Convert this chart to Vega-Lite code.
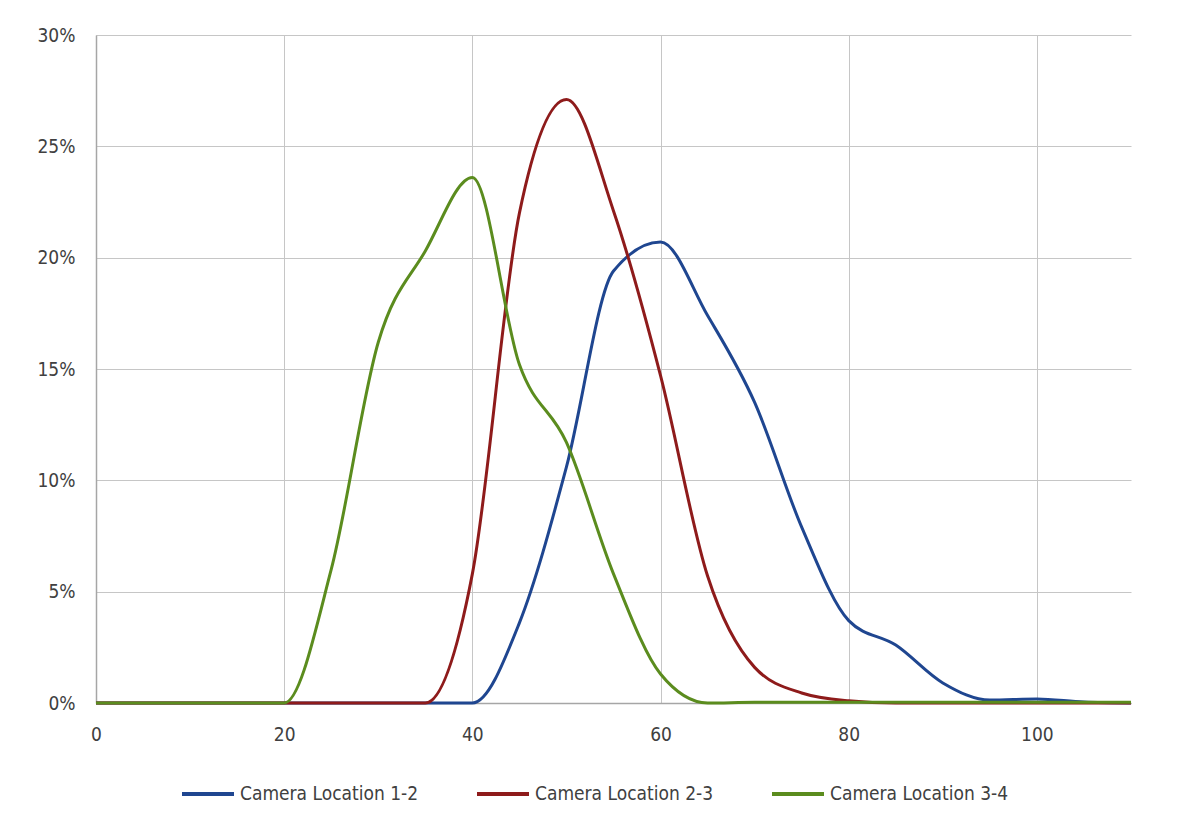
{
  "$schema": "https://vega.github.io/schema/vega-lite/v6.json",
  "width": 1035,
  "height": 668,
  "autosize": {"type": "none"},
  "padding": {"left": 96, "top": 35, "right": 49, "bottom": 130},
  "background": "white",
  "data": {
    "values": [
      {"x": 0, "pct": 0, "series": "Camera Location 1-2"},
      {"x": 5, "pct": 0, "series": "Camera Location 1-2"},
      {"x": 10, "pct": 0, "series": "Camera Location 1-2"},
      {"x": 15, "pct": 0, "series": "Camera Location 1-2"},
      {"x": 20, "pct": 0, "series": "Camera Location 1-2"},
      {"x": 25, "pct": 0, "series": "Camera Location 1-2"},
      {"x": 30, "pct": 0, "series": "Camera Location 1-2"},
      {"x": 35, "pct": 0, "series": "Camera Location 1-2"},
      {"x": 40, "pct": 0, "series": "Camera Location 1-2"},
      {"x": 45, "pct": 0.036, "series": "Camera Location 1-2"},
      {"x": 50, "pct": 0.106, "series": "Camera Location 1-2"},
      {"x": 55, "pct": 0.194, "series": "Camera Location 1-2"},
      {"x": 60, "pct": 0.207, "series": "Camera Location 1-2"},
      {"x": 65, "pct": 0.174, "series": "Camera Location 1-2"},
      {"x": 70, "pct": 0.135, "series": "Camera Location 1-2"},
      {"x": 75, "pct": 0.079, "series": "Camera Location 1-2"},
      {"x": 80, "pct": 0.037, "series": "Camera Location 1-2"},
      {"x": 85, "pct": 0.026, "series": "Camera Location 1-2"},
      {"x": 90, "pct": 0.009, "series": "Camera Location 1-2"},
      {"x": 95, "pct": 0.0013, "series": "Camera Location 1-2"},
      {"x": 100, "pct": 0.0018, "series": "Camera Location 1-2"},
      {"x": 105, "pct": 0.0004, "series": "Camera Location 1-2"},
      {"x": 110, "pct": 0, "series": "Camera Location 1-2"},
      {"x": 0, "pct": 0, "series": "Camera Location 2-3"},
      {"x": 5, "pct": 0, "series": "Camera Location 2-3"},
      {"x": 10, "pct": 0, "series": "Camera Location 2-3"},
      {"x": 15, "pct": 0, "series": "Camera Location 2-3"},
      {"x": 20, "pct": 0, "series": "Camera Location 2-3"},
      {"x": 25, "pct": 0, "series": "Camera Location 2-3"},
      {"x": 30, "pct": 0, "series": "Camera Location 2-3"},
      {"x": 35, "pct": 0, "series": "Camera Location 2-3"},
      {"x": 40, "pct": 0.058, "series": "Camera Location 2-3"},
      {"x": 45, "pct": 0.22, "series": "Camera Location 2-3"},
      {"x": 50, "pct": 0.271, "series": "Camera Location 2-3"},
      {"x": 55, "pct": 0.221, "series": "Camera Location 2-3"},
      {"x": 60, "pct": 0.147, "series": "Camera Location 2-3"},
      {"x": 65, "pct": 0.057, "series": "Camera Location 2-3"},
      {"x": 70, "pct": 0.016, "series": "Camera Location 2-3"},
      {"x": 75, "pct": 0.0045, "series": "Camera Location 2-3"},
      {"x": 80, "pct": 0.001, "series": "Camera Location 2-3"},
      {"x": 85, "pct": 0, "series": "Camera Location 2-3"},
      {"x": 90, "pct": 0, "series": "Camera Location 2-3"},
      {"x": 95, "pct": 0, "series": "Camera Location 2-3"},
      {"x": 100, "pct": 0, "series": "Camera Location 2-3"},
      {"x": 105, "pct": 0, "series": "Camera Location 2-3"},
      {"x": 110, "pct": 0, "series": "Camera Location 2-3"},
      {"x": 0, "pct": 0, "series": "Camera Location 3-4"},
      {"x": 5, "pct": 0, "series": "Camera Location 3-4"},
      {"x": 10, "pct": 0, "series": "Camera Location 3-4"},
      {"x": 15, "pct": 0, "series": "Camera Location 3-4"},
      {"x": 20, "pct": 0, "series": "Camera Location 3-4"},
      {"x": 25, "pct": 0.06, "series": "Camera Location 3-4"},
      {"x": 30, "pct": 0.162, "series": "Camera Location 3-4"},
      {"x": 35, "pct": 0.203, "series": "Camera Location 3-4"},
      {"x": 40, "pct": 0.236, "series": "Camera Location 3-4"},
      {"x": 45, "pct": 0.152, "series": "Camera Location 3-4"},
      {"x": 50, "pct": 0.117, "series": "Camera Location 3-4"},
      {"x": 55, "pct": 0.058, "series": "Camera Location 3-4"},
      {"x": 60, "pct": 0.013, "series": "Camera Location 3-4"},
      {"x": 65, "pct": 0, "series": "Camera Location 3-4"},
      {"x": 70, "pct": 0.0003, "series": "Camera Location 3-4"},
      {"x": 75, "pct": 0.0003, "series": "Camera Location 3-4"},
      {"x": 80, "pct": 0.0003, "series": "Camera Location 3-4"},
      {"x": 85, "pct": 0.0003, "series": "Camera Location 3-4"},
      {"x": 90, "pct": 0.0003, "series": "Camera Location 3-4"},
      {"x": 95, "pct": 0.0003, "series": "Camera Location 3-4"},
      {"x": 100, "pct": 0.0003, "series": "Camera Location 3-4"},
      {"x": 105, "pct": 0.0003, "series": "Camera Location 3-4"},
      {"x": 110, "pct": 0.0003, "series": "Camera Location 3-4"}
    ]
  },
  "mark": {"type": "line", "interpolate": "monotone", "strokeWidth": 3},
  "encoding": {
    "x": {
      "field": "x",
      "type": "quantitative",
      "scale": {"domain": [0, 110], "nice": false},
      "axis": {
        "title": null,
        "values": [0, 20, 40, 60, 80, 100],
        "labelPadding": 22,
        "labelFlush": false,
        "ticks": false
      }
    },
    "y": {
      "field": "pct",
      "type": "quantitative",
      "scale": {"domain": [0, 0.3], "nice": false},
      "axis": {
        "title": null,
        "format": ".0%",
        "values": [0, 0.05, 0.1, 0.15, 0.2, 0.25, 0.3],
        "labelPadding": 21,
        "ticks": false
      }
    },
    "color": {
      "field": "series",
      "type": "nominal",
      "scale": {
        "domain": ["Camera Location 1-2", "Camera Location 2-3", "Camera Location 3-4"],
        "range": ["#1F4690", "#8E1B1B", "#5B8C1E"]
      },
      "legend": {
        "title": null,
        "orient": "none",
        "direction": "horizontal",
        "legendX": 84,
        "legendY": 731,
        "symbolType": "stroke",
        "symbolSize": 2704,
        "symbolStrokeWidth": 4,
        "labelOffset": 4,
        "columnPadding": 50,
        "labelFontSize": 19,
        "labelLimit": 300
      }
    }
  },
  "config": {
    "view": {"stroke": null},
    "font": "Liberation Sans Narrow, DejaVu Sans Condensed, sans-serif",
    "axis": {
      "labelFont": "Liberation Sans Narrow, DejaVu Sans Condensed, sans-serif",
      "labelFontSize": 19,
      "labelColor": "#404040",
      "gridColor": "#C6C6C6",
      "gridWidth": 1,
      "domainColor": "#A6A6A6",
      "domainWidth": 1.5
    },
    "legend": {
      "labelFont": "Liberation Sans Narrow, DejaVu Sans Condensed, sans-serif",
      "labelColor": "#404040"
    }
  }
}
